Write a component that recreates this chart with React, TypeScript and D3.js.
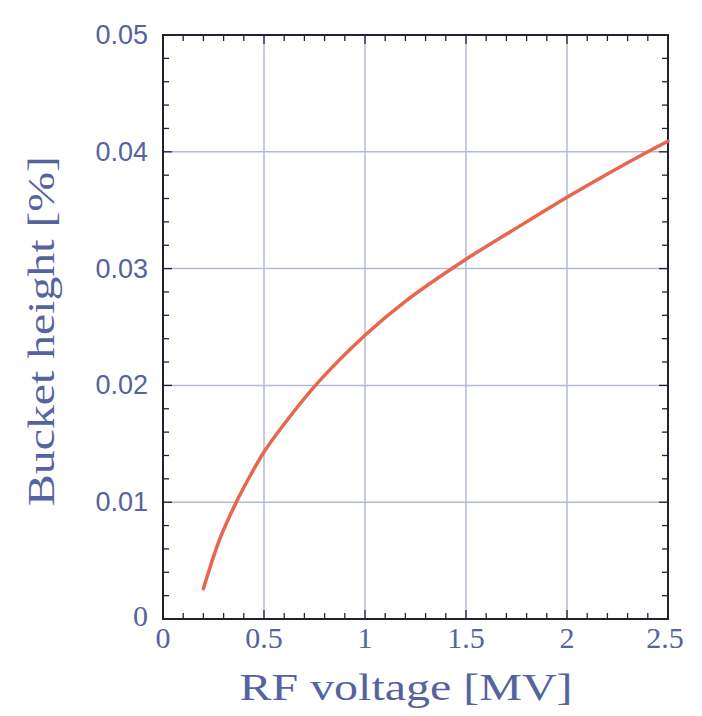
import React from 'react';
import * as d3 from 'd3';

// RF voltage [MV] vs bucket height [%]
const voltage = [0.2, 0.28, 0.36, 0.42, 0.5, 0.6, 0.77, 1.0, 1.2, 1.5, 1.8, 2.0, 2.2, 2.4, 2.5];
const bucketHeight = [0.0026, 0.0068, 0.0099, 0.0119, 0.0143, 0.0167, 0.0203, 0.0243, 0.0272, 0.0308, 0.034, 0.0361, 0.0381, 0.04, 0.0409];

const xTicks = [0, 0.5, 1, 1.5, 2, 2.5];
const xTickLabels = ['0', '0.5', '1', '1.5', '2', '2.5'];
const yTicks = [0, 0.01, 0.02, 0.03, 0.04, 0.05];
const yTickLabels = ['0', '0.01', '0.02', '0.03', '0.04', '0.05'];

const xTitle = 'RF voltage [MV]';
const yTitle = 'Bucket height [%]';

const left = 163;
const right = 668;
const top = 35;
const bottom = 619;

const textColor = '#5563a0';
const gridColor = '#b3bad6';
const frameColor = '#1e2233';

const App = () => {
  const x = d3.scaleLinear().domain([0, 2.5]).range([left, right]);
  const y = d3.scaleLinear().domain([0, 0.05]).range([bottom, top]);

  const xMinor = d3.range(0, 2.5001, 0.1);
  const yMinor = d3.range(0, 0.05001, 0.002);

  const line = d3.line<number>()
    .x((d, i) => x(voltage[i]))
    .y(d => y(d))
    .curve(d3.curveCatmullRom.alpha(0.5));

  return (
    <svg width={702} height={716} style={{ position: 'absolute', left: 0, top: 0, background: '#fff' }}>
      {/* grid */}
      {xTicks.slice(1, -1).map(t => (
        <line key={'gx' + t} x1={x(t)} x2={x(t)} y1={top} y2={bottom} stroke={gridColor} strokeWidth={1.5} />
      ))}
      {yTicks.slice(1, -1).map(t => (
        <line key={'gy' + t} x1={left} x2={right} y1={y(t)} y2={y(t)} stroke={gridColor} strokeWidth={1.5} />
      ))}

      {/* minor ticks on all sides */}
      {xMinor.map((t, i) => {
        const len = i % 5 === 0 ? 9 : 6;
        return (
          <g key={'tx' + i}>
            <line x1={x(t)} x2={x(t)} y1={bottom} y2={bottom - len} stroke={frameColor} strokeWidth={1.3} />
            <line x1={x(t)} x2={x(t)} y1={top} y2={top + len} stroke={frameColor} strokeWidth={1.3} />
          </g>
        );
      })}
      {yMinor.map((t, i) => {
        const len = i % 5 === 0 ? 9 : 6;
        return (
          <g key={'ty' + i}>
            <line x1={left} x2={left + len} y1={y(t)} y2={y(t)} stroke={frameColor} strokeWidth={1.3} />
            <line x1={right} x2={right - len} y1={y(t)} y2={y(t)} stroke={frameColor} strokeWidth={1.3} />
          </g>
        );
      })}

      {/* frame */}
      <rect x={left} y={top} width={right - left} height={bottom - top} fill="none" stroke={frameColor} strokeWidth={2} />

      {/* curve */}
      <path d={line(bucketHeight) || ''} fill="none" stroke="#e8654e" strokeWidth={3.5} strokeLinecap="round" />

      {/* x tick labels */}
      {xTicks.map((t, i) => (
        <text key={'lx' + t} x={x(t) + (i === xTicks.length - 1 ? -3 : 0)} y={648} textAnchor="middle"
          fontFamily="Liberation Serif, serif" fontSize={30} fill={textColor}>
          {xTickLabels[i]}
        </text>
      ))}

      {/* y tick labels */}
      {yTicks.map((t, i) => (
        <text key={'ly' + t} x={148} y={y(t) + (i === 0 ? -4 : 0)} textAnchor="end" dominantBaseline="central"
          fontFamily={i === 0 ? 'Liberation Serif, serif' : 'Liberation Sans, sans-serif'} fontSize={i === 0 ? 30 : 27} fill={textColor}>
          {yTickLabels[i]}
        </text>
      ))}

      {/* titles */}
      <text x={406} y={700} textAnchor="middle" fontFamily="Liberation Serif, serif" fontSize={38} fill={textColor}
        textLength={333} lengthAdjust="spacingAndGlyphs">
        {xTitle}
      </text>
      <text transform="translate(54,331) rotate(-90)" textAnchor="middle" fontFamily="Liberation Serif, serif" fontSize={38} fill={textColor}
        textLength={350} lengthAdjust="spacingAndGlyphs">
        {yTitle}
      </text>
    </svg>
  );
};

export default App;
